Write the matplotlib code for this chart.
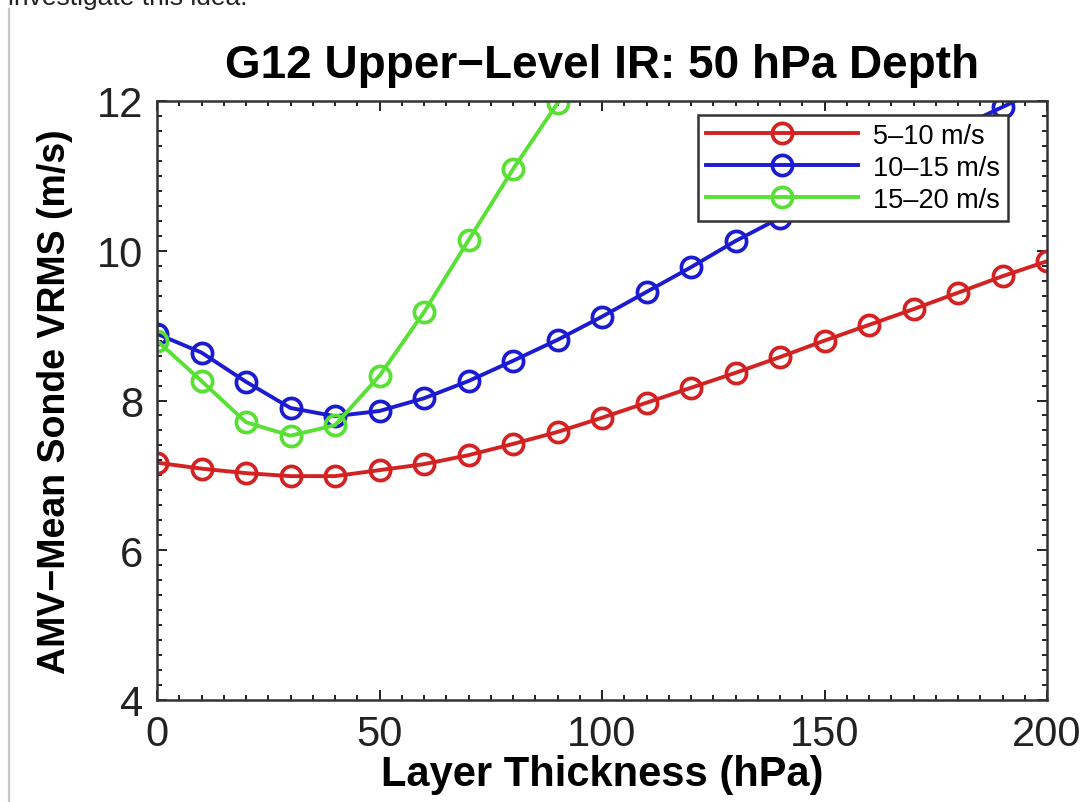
import matplotlib
matplotlib.use("Agg")
import matplotlib.pyplot as plt
from matplotlib.ticker import MultipleLocator
from matplotlib.lines import Line2D

plt.rcParams['font.family'] = ['Liberation Sans', 'DejaVu Sans']

# Data
thickness = [0, 10, 20, 30, 40, 50, 60, 70, 80, 90, 100, 110, 120, 130, 140,
             150, 160, 170, 180, 190, 200]
red_5_10 = [7.17, 7.09, 7.03, 6.99, 6.99, 7.07, 7.15, 7.27, 7.42, 7.58, 7.77,
            7.97, 8.17, 8.37, 8.58, 8.80, 9.01, 9.22, 9.44, 9.66, 9.86]
blue_10_15 = [8.89, 8.64, 8.25, 7.90, 7.79, 7.86, 8.03, 8.26, 8.53, 8.81, 9.12,
              9.45, 9.78, 10.13, 10.44, 10.75, 11.05, 11.35, 11.64, 11.92, 12.2]
green_thick = [0, 10, 20, 30, 40, 50, 60, 70, 80, 90]
green_15_20 = [8.80, 8.26, 7.71, 7.53, 7.67, 8.33, 9.18, 10.14, 11.09, 11.97]
labels = ['5\u201310 m/s', '10\u201315 m/s', '15\u201320 m/s']
colors = ['#d42222', '#1b1bd2', '#58e034']

W, H = 1087, 803
fig = plt.figure(figsize=(W / 100, H / 100), dpi=100)
ax = fig.add_axes([157 / W, 1 - 701 / H, (1047 - 157) / W, (701 - 102) / H])

style = dict(marker='o', markersize=14.5, markerfacecolor='none',
             markeredgewidth=2.7, linewidth=2.8)
ax.plot(thickness, red_5_10, color=colors[0], label=labels[0], **style)
ax.plot(thickness, blue_10_15, color=colors[1], label=labels[1], **style)
ax.plot(green_thick, green_15_20, color=colors[2], label=labels[2], **style)

ax.set_xlim(0, 200)
ax.set_ylim(4, 12)
ax.set_xticks([0, 50, 100, 150, 200])
ax.set_yticks([4, 6, 8, 10, 12])
ax.xaxis.set_minor_locator(MultipleLocator(5))
ax.yaxis.set_minor_locator(MultipleLocator(0.2))
ax.tick_params(which='both', direction='in', top=True, right=True,
               colors='#222222', width=1.4)
ax.tick_params(which='major', length=7, labelsize=30)
ax.tick_params(which='minor', length=3.5)
ax.tick_params(axis='x', which='major', pad=10)
ax.tick_params(axis='y', which='major', pad=10)
for s in ax.spines.values():
    s.set_linewidth(1.8)
    s.set_color('#333333')

ax.set_title('G12 Upper\u2212Level IR: 50 hPa Depth', fontsize=33,
             fontweight='bold', pad=17)
ax.set_xlabel('Layer Thickness (hPa)', fontsize=30, fontweight='bold',
              labelpad=0)
ax.set_ylabel('AMV\u2212Mean Sonde VRMS (m/s)', fontsize=27, fontweight='bold',
              labelpad=17)

leg = ax.legend(loc='upper left', bbox_to_anchor=(0.608, 0.977),
                borderaxespad=0, fontsize=19.5, handlelength=5.6,
                handletextpad=0.55, labelspacing=0.22, borderpad=0.3,
                fancybox=False, framealpha=1, edgecolor='#333333')
leg.get_frame().set_linewidth(1.8)

# Page context around the figure
fig.text(8 / W, 1 - 5 / H, 'investigate this idea.', fontsize=19,
         va='baseline', ha='left', color='#222222')
fig.add_artist(Line2D([9 / W, 9 / W], [0, 1 - 10 / H], color='#c8c8c8',
                      linewidth=1.6, transform=fig.transFigure))

fig.savefig('out.png', dpi=100)
